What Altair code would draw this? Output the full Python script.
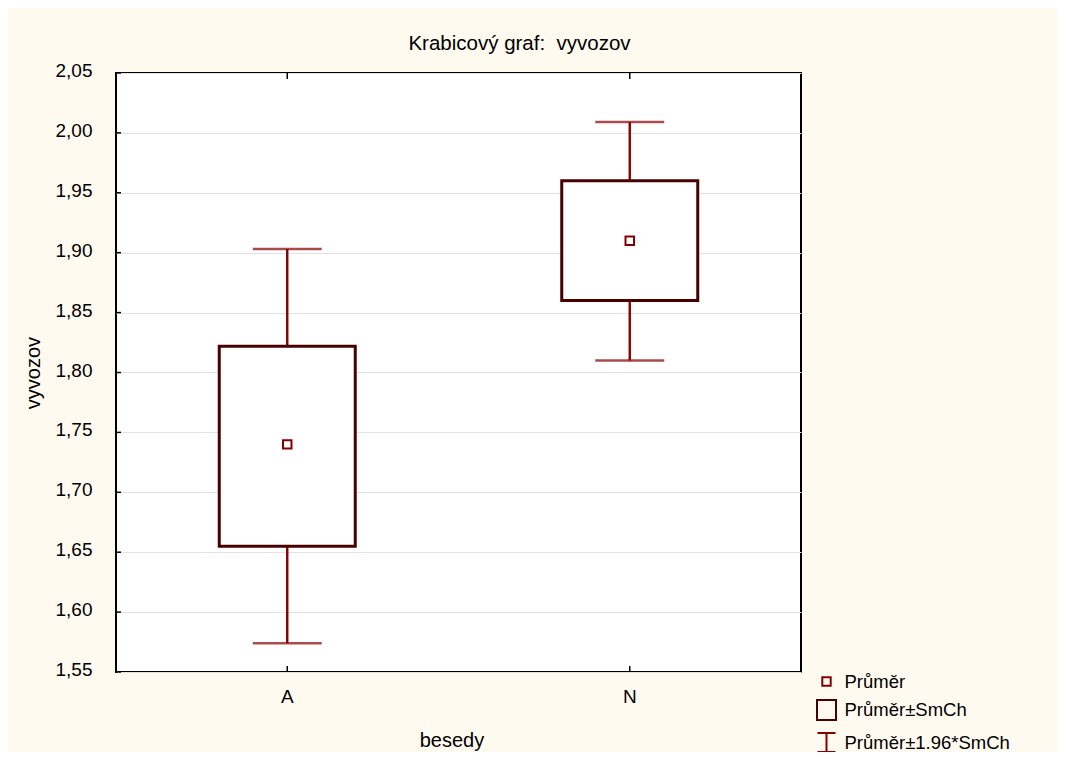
import altair as alt
import pandas as pd

categories = ["A", "N"]
means = [1.740, 1.910]
box_lo = [1.655, 1.860]
box_hi = [1.822, 1.960]
whisk_lo = [1.574, 1.810]
whisk_hi = [1.903, 2.009]
y_ticks = [1.55, 1.60, 1.65, 1.70, 1.75, 1.80, 1.85, 1.90, 1.95, 2.00, 2.05]
legend_items = ["Průměr", "Průměr±SmCh", "Průměr±1.96*SmCh"]

FONT = "Liberation Sans"
W, H = 685, 599
RED = "#850000"
DARK = "#480000"

df = pd.DataFrame({"cat": categories, "mean": means, "lo": box_lo, "hi": box_hi,
                   "wlo": whisk_lo, "whi": whisk_hi})
tick_df = pd.DataFrame({"v": y_ticks})
leg_df = pd.DataFrame({"item": legend_items, "cat": ["A"] * 3, "v": [1.0] * 3})

xs = alt.Scale(domain=categories, paddingInner=0, paddingOuter=0)
ys = alt.Scale(domain=[1.55, 2.05], nice=False, zero=False)

x_axis = alt.Axis(labelAngle=0, tickSize=0, domain=False, grid=False,
                  labelFontSize=19, labelFont=FONT, labelColor="black",
                  labelBaseline="alphabetic", labelPadding=30.5,
                  title="besedy", titleFontSize=20, titleFont=FONT, titleFontWeight="normal",
                  titleColor="black", titleX=335.5, titleY=74, titleBaseline="alphabetic",
                  titleAlign="center")
y_axis = alt.Axis(values=y_ticks, tickSize=0, domain=False, grid=True,
                  gridColor="#E2E2E2", gridWidth=1,
                  labelExpr="replace(format(datum.value, '.2f'), '.', ',')",
                  labelFontSize=19, labelFont=FONT, labelColor="black",
                  labelPadding=24, labelOffset=-2.5,
                  title="vyvozov", titleFontSize=20, titleFont=FONT, titleFontWeight="normal",
                  titleColor="black", titleX=-77, titleY=299.5, titleAngle=270,
                  titleBaseline="alphabetic", titleAlign="center")

base = alt.Chart(df)

whisker = base.mark_rule(color=RED, strokeWidth=2.4).encode(
    x=alt.X("cat:N", scale=xs, axis=x_axis),
    y=alt.Y("wlo:Q", scale=ys, axis=y_axis),
    y2="whi:Q",
)
cap_lo = base.mark_tick(color=RED, thickness=2.5, size=69, orient="horizontal").encode(
    x=alt.X("cat:N", scale=xs), y=alt.Y("wlo:Q", scale=ys))
cap_hi = base.mark_tick(color=RED, thickness=2.5, size=69, orient="horizontal").encode(
    x=alt.X("cat:N", scale=xs), y=alt.Y("whi:Q", scale=ys))
box = base.mark_bar(size=136, fill="white", stroke=DARK, strokeWidth=3).encode(
    x=alt.X("cat:N", scale=xs), y=alt.Y("lo:Q", scale=ys), y2="hi:Q")
mean_pt = base.mark_point(shape="square", filled=False, size=72, strokeWidth=2,
                          color=RED, opacity=1).encode(
    x=alt.X("cat:N", scale=xs), y=alt.Y("mean:Q", scale=ys))

ytick_marks = alt.Chart(tick_df).mark_rule(color="black", strokeWidth=1.5).encode(
    x=alt.value(0), x2=alt.value(5), y=alt.Y("v:Q", scale=ys))
xtick_bottom = base.mark_rule(color="black", strokeWidth=1.5).encode(
    x=alt.X("cat:N", scale=xs), y=alt.value(H), y2=alt.value(H - 6))
xtick_top = base.mark_rule(color="black", strokeWidth=1.5).encode(
    x=alt.X("cat:N", scale=xs), y=alt.value(0), y2=alt.value(6))

shapes = [
    "M-0.42,-0.42L0.42,-0.42L0.42,0.42L-0.42,0.42Z",
    "M-0.95,-1L0.95,-1L0.95,1L-0.95,1Z",
    "M-0.9,-0.95L0.9,-0.95M0,-0.95L0,0.95M-0.9,0.95L0.9,0.95",
]
legend_layer = alt.Chart(leg_df).mark_point(filled=False, clip=True, strokeWidth=2).encode(
    x=alt.X("cat:N", scale=xs),
    y=alt.Y("v:Q", scale=ys),
    shape=alt.Shape("item:N", scale=alt.Scale(domain=legend_items, range=shapes), legend=None),
    color=alt.Color("item:N", scale=alt.Scale(domain=legend_items, range=[RED, DARK, RED]),
                    legend=alt.Legend(title=None, orient="none", legendX=699.5, legendY=597.5,
                                      symbolSize=400, symbolStrokeWidth=2,
                                      labelFontSize=18.5, labelFont=FONT, labelColor="black",
                                      labelOffset=7, rowPadding=4.5, padding=0,
                                      labelLimit=400, symbolOpacity=1)),
)

chart = alt.layer(
    whisker, cap_lo, cap_hi, box, mean_pt, ytick_marks, xtick_bottom, xtick_top, legend_layer
).resolve_scale(shape="shared", color="shared").properties(
    width=W, height=H,
    title=alt.TitleParams("Krabicový graf:\u00a0 vyvozov", fontSize=20.5, font=FONT,
                          fontWeight="normal", color="black", dx=61, dy=31, offset=22,
                          baseline="alphabetic", anchor="middle"),
    autosize=alt.AutoSizeParams(type="none"),
    padding={"left": 108, "top": 65, "right": 256, "bottom": 80},
    background="#FFFAF0",
).configure_view(stroke="black", strokeWidth=2, fill="white")

chart.save("out.html", embed_options={"renderer": "svg", "actions": False})
